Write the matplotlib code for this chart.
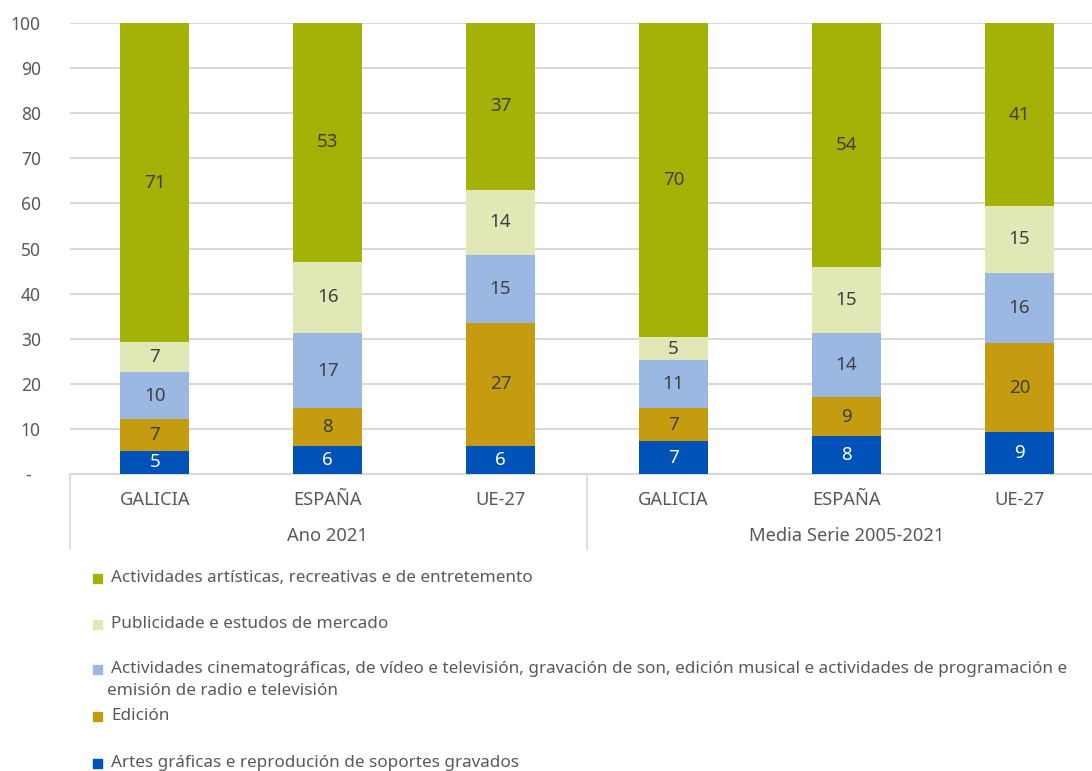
import matplotlib
matplotlib.use("Agg")
import matplotlib.pyplot as plt
from matplotlib.patches import Rectangle
import numpy as np

plt.rcParams['font.family'] = ['Noto Sans', 'DejaVu Sans']

categories = ["GALICIA", "ESPAÑA", "UE-27", "GALICIA", "ESPAÑA", "UE-27"]
groups = ["Ano 2021", "Media Serie 2005-2021"]

series_names = [
    "Artes gráficas e reprodución de soportes gravados",
    "Edición",
    "Actividades cinematográficas, de vídeo e televisión, gravación de son, edición musical e actividades de programación e",
    "Publicidade e estudos de mercado",
    "Actividades artísticas, recreativas e de entretemento",
]
series_name_cont = "emisión de radio e televisión"
artes = [5.1, 6.2, 6.2, 7.3, 8.4, 9.3]
edicion = [7.1, 8.4, 27.3, 7.3, 8.6, 19.7]
cine = [10.4, 16.6, 15.1, 10.6, 14.3, 15.6]
publicidade = [6.6, 15.9, 14.4, 5.2, 14.6, 14.8]
artisticas = [70.8, 52.9, 37.0, 69.6, 54.1, 40.6]

series = [artes, edicion, cine, publicidade, artisticas]
colors = ["#0052B9", "#C59B0F", "#9AB8E1", "#E2E7B6", "#A4B107"]
label_colors = ["white", "#404040", "#404040", "#404040", "#404040"]

W, H = 1092, 771
fig = plt.figure(figsize=(W / 100, H / 100), dpi=100)
ax_left, ax_right, ax_top, ax_bot = 70, 1092, 23, 474
ax = fig.add_axes([ax_left / W, 1 - ax_bot / H, (ax_right - ax_left) / W, (ax_bot - ax_top) / H])

x = np.arange(len(categories))
bottom = np.zeros(len(categories))
for vals, col, lc in zip(series, colors, label_colors):
    vals = np.array(vals)
    ax.bar(x, vals, width=0.4, bottom=bottom, color=col, zorder=3)
    for xi, b, v in zip(x, bottom, vals):
        ax.text(xi, b + v / 2, f"{v:.0f}", ha="center", va="center",
                fontsize=13.5, color=lc, zorder=4)
    bottom += vals

ax.set_xlim(-0.49, 5.42)
ax.set_ylim(0, 100)
ax.set_yticks(np.arange(0, 101, 10))
ax.set_yticklabels(["-  "] + [str(v) for v in range(10, 101, 10)])
ax.tick_params(axis="y", length=0, pad=21, labelsize=12.5, colors="#595959")
ax.set_xticks([])
ax.grid(axis="y", color="#D9D9D9", linewidth=1.5, zorder=0)
for s in ["top", "right", "left"]:
    ax.spines[s].set_visible(False)
ax.spines["bottom"].set_color("#D9D9D9")
ax.spines["bottom"].set_linewidth(1.5)

trans = ax.get_xaxis_transform()
ah = ax_bot - ax_top
def ay(py):
    return (ax_bot - py) / ah

for xi, c in zip(x, categories):
    ax.text(xi, ay(500), c, transform=trans, ha="center", va="center",
            fontsize=13.2, color="#595959", clip_on=False)
for gi, g in enumerate(groups):
    ax.text(gi * 3 + 1, ay(536), g, transform=trans, ha="center", va="center",
            fontsize=13.2, color="#595959", clip_on=False)
for sx in [-0.49, 2.5]:
    ax.plot([sx, sx], [0, ay(549)], transform=trans, color="#D9D9D9",
            linewidth=1.2, clip_on=False)

# legend (top to bottom order)
leg_rows = [(4, 578), (3, 624), (2, 669), (1, 716), (0, 763)]
for si, py in leg_rows:
    fig.patches.append(Rectangle((93 / W, 1 - (py + 4.5) / H), 9 / W, 9 / H,
                                 transform=fig.transFigure, color=colors[si]))
    fig.text(111 / W, 1 - py / H, series_names[si], ha="left", va="center",
             fontsize=12.3, color="#595959")
fig.text(107 / W, 1 - 691 / H, series_name_cont,
         ha="left", va="center", fontsize=12.3, color="#595959")

fig.savefig("out.png", dpi=100)
